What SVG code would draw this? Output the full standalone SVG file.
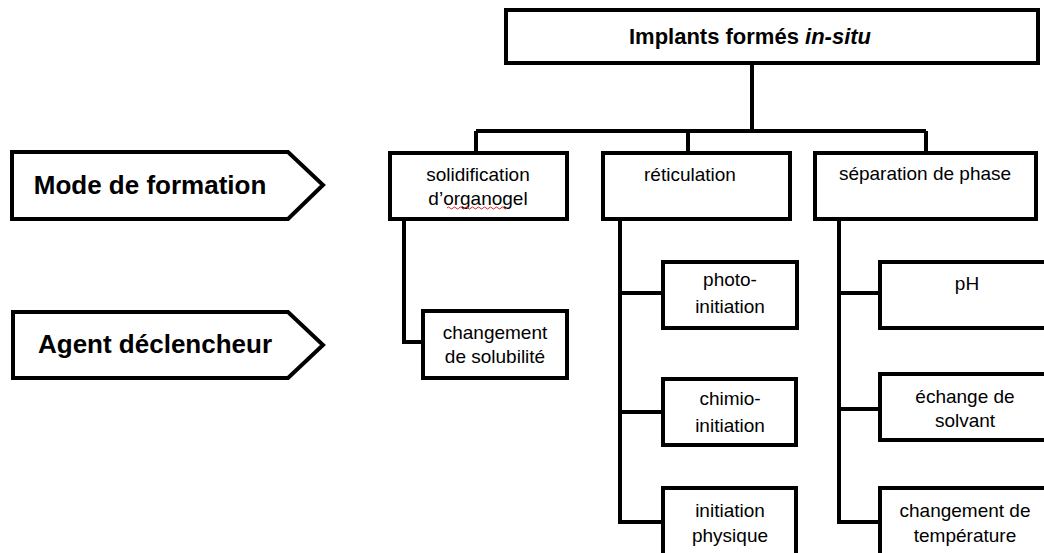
<svg xmlns="http://www.w3.org/2000/svg" width="1044" height="553" viewBox="0 0 1044 553">
<style>
.box{fill:#fff;stroke:#000;stroke-width:4}
.ln{fill:none;stroke:#000;stroke-width:4}
.t{font-family:"Liberation Sans",Arial,sans-serif;font-size:19px;fill:#000;text-anchor:middle}
.b{font-family:"Liberation Sans",Arial,sans-serif;font-weight:bold;fill:#000;text-anchor:middle}
</style>
<rect width="1044" height="553" fill="#fff"/>
<g id="connectors">
<path class="ln" d="M752,63 V131 M476,131 H926 M476,131 V153 M688,131 V153 M926,131 V153"/>
<path class="ln" d="M404,219 V342 H423"/>
<path class="ln" d="M620,219 V522 H663 M620,293 H663 M620,412 H663"/>
<path class="ln" d="M839,219 V522 H880 M839,293 H880 M839,409 H880"/>
</g>
<g id="mode">
<polygon class="box" points="12,152 288,152 323,185 288,219 12,219"/>
<text class="b" x="150" y="194" font-size="26">Mode de formation</text>
</g>
<g id="agent">
<polygon class="box" points="13,312 288,312 323,345 288,378 13,378"/>
<text class="b" x="155" y="353" font-size="26">Agent déclencheur</text>
</g>
<g id="root">
<rect class="box" x="506" y="10" width="532" height="53"/>
<text class="b" x="750" y="44" font-size="22">Implants formés <tspan font-style="italic">in-situ</tspan></text>
</g>
<g id="solidification">
<rect class="box" x="390" y="153" width="177" height="66"/>
<text class="t" x="478" y="181">solidification</text>
<text class="t" x="478" y="205">d’organogel</text>
<path d="M447,208 q1.5,-2 3,0 t3,0 t3,0 t3,0 t3,0 t3,0 t3,0 t3,0 t3,0 t3,0 t3,0 t3,0 t3,0 t3,0 t3,0 t3,0 t3,0 t3,0 t3,0 t3,0" fill="none" stroke="#e02020" stroke-width="1"/>
</g>
<g id="reticulation">
<rect class="box" x="603" y="153" width="187" height="66"/>
<text class="t" x="690" y="181">réticulation</text>
</g>
<g id="separation">
<rect class="box" x="815" y="153" width="221" height="66"/>
<text class="t" x="925" y="180">séparation de phase</text>
</g>
<g id="solubilite">
<rect class="box" x="423" y="311" width="144" height="67"/>
<text class="t" x="495" y="339">changement</text>
<text class="t" x="495" y="363">de solubilité</text>
</g>
<g id="photo">
<rect class="box" x="663" y="262" width="134" height="66"/>
<text class="t" x="730" y="286">photo-</text>
<text class="t" x="730" y="313">initiation</text>
</g>
<g id="chimio">
<rect class="box" x="663" y="379" width="133" height="66"/>
<text class="t" x="730" y="405">chimio-</text>
<text class="t" x="730" y="432">initiation</text>
</g>
<g id="physique">
<rect class="box" x="663" y="488" width="133" height="80"/>
<text class="t" x="730" y="517">initiation</text>
<text class="t" x="730" y="542">physique</text>
</g>
<g id="ph">
<rect class="box" x="880" y="262" width="180" height="66"/>
<text class="t" x="967" y="290">pH</text>
</g>
<g id="solvant">
<rect class="box" x="880" y="374" width="180" height="66"/>
<text class="t" x="965" y="403">échange de</text>
<text class="t" x="965" y="427">solvant</text>
</g>
<g id="temperature">
<rect class="box" x="880" y="488" width="180" height="80"/>
<text class="t" x="965" y="517">changement de</text>
<text class="t" x="965" y="542">température</text>
</g>
</svg>
